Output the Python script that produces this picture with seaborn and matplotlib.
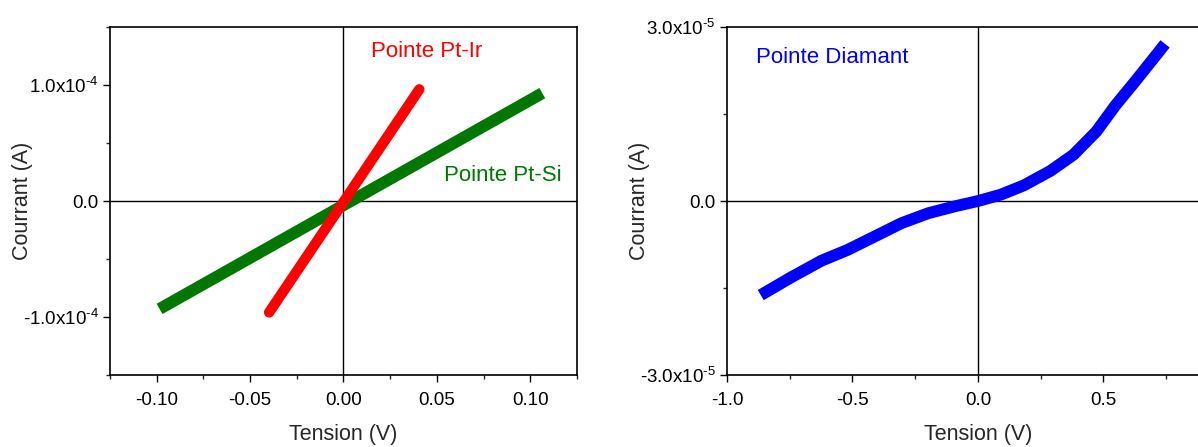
import matplotlib
matplotlib.use("Agg")
import matplotlib.pyplot as plt
import seaborn as sns
from matplotlib.ticker import FixedLocator, MultipleLocator

sns.set_style("ticks")
plt.rcParams['font.family'] = ['Liberation Sans', 'DejaVu Sans']
plt.rcParams['mathtext.fontset'] = 'custom'
plt.rcParams['mathtext.rm'] = 'Liberation Sans'
plt.rcParams['mathtext.it'] = 'Liberation Sans'

# Data
ptir_v = [-0.0398, 0.0406]
ptir_i = [-0.96e-4, 0.963e-4]

ptsi_v = [-0.0957, 0.1037]
ptsi_i = [-0.905e-4, 0.905e-4]

diam_v = [-0.845, -0.746, -0.624, -0.518, -0.411, -0.304, -0.198, -0.091, 0.0,
          0.091, 0.183, 0.289, 0.381, 0.472, 0.548, 0.624, 0.685, 0.731]
diam_i = [-1.57e-5, -1.32e-5, -1.03e-5, -0.84e-5, -0.61e-5, -0.38e-5, -0.21e-5,
          -0.09e-5, 0.0, 0.11e-5, 0.27e-5, 0.52e-5, 0.80e-5, 1.20e-5, 1.65e-5,
          2.05e-5, 2.38e-5, 2.63e-5]

left_yticks = [-1e-4, 0, 1e-4]
left_ylabels = ['-1.0x10$^{\u20104}$', '0.0', '1.0x10$^{\u20104}$']
left_xticks = [-0.10, -0.05, 0.00, 0.05, 0.10]
left_xlabels = ['-0.10', '-0.05', '0.00', '0.05', '0.10']

right_yticks = [-3e-5, 0, 3e-5]
right_ylabels = ['-3.0x10$^{\u20105}$', '0.0', '3.0x10$^{\u20105}$']
right_xticks = [-1.0, -0.5, 0.0, 0.5]
right_xlabels = ['-1.0', '-0.5', '0.0', '0.5']

fig = plt.figure(figsize=(11.98, 4.47), dpi=100)
ax1 = fig.add_axes([0.0918, 0.161, 0.3898, 0.7785])
ax2 = fig.add_axes([0.6068, 0.161, 0.419, 0.7785])

for ax in (ax1, ax2):
    ax.axhline(0, color='black', lw=1, zorder=1)
    ax.axvline(0, color='black', lw=1, zorder=1)

sns.lineplot(x=ptsi_v, y=ptsi_i, ax=ax1, color='#007700', linewidth=8.5,
             sort=False, solid_capstyle='projecting', zorder=3)
sns.lineplot(x=ptir_v, y=ptir_i, ax=ax1, color='#ff0000', linewidth=7.5,
             sort=False, solid_capstyle='round', zorder=4)
sns.lineplot(x=diam_v, y=diam_i, ax=ax2, color='#0000ff', linewidth=8.5,
             sort=False, solid_capstyle='projecting', zorder=3)

ax1.set_xlim(-0.125, 0.125)
ax1.set_ylim(-1.5e-4, 1.5e-4)
ax1.xaxis.set_major_locator(FixedLocator(left_xticks))
ax1.set_xticklabels(left_xlabels)
ax1.xaxis.set_minor_locator(MultipleLocator(0.025))
ax1.yaxis.set_major_locator(FixedLocator(left_yticks))
ax1.set_yticklabels(left_ylabels)
ax1.yaxis.set_minor_locator(MultipleLocator(0.5e-4))

ax2.set_xlim(-1.0, 1.0)
ax2.set_ylim(-3e-5, 3e-5)
ax2.xaxis.set_major_locator(FixedLocator(right_xticks))
ax2.set_xticklabels(right_xlabels)
ax2.xaxis.set_minor_locator(MultipleLocator(0.25))
ax2.yaxis.set_major_locator(FixedLocator(right_yticks))
ax2.set_yticklabels(right_ylabels)
ax2.yaxis.set_minor_locator(MultipleLocator(1.5e-5))

for ax in (ax1, ax2):
    for s in ax.spines.values():
        s.set_visible(True)
        s.set_color('black')
        s.set_linewidth(1.2)
    ax.tick_params(which='major', direction='out', length=5, width=1,
                   labelsize=13.5, color='black', labelcolor='black',
                   top=False, right=False, pad=3)
    ax.tick_params(axis='x', which='major', pad=7)
    ax.tick_params(which='minor', direction='out', length=3, width=1,
                   top=False, right=False)
    ax.set_xlabel('Tension (V)', fontsize=15.5)
    ax.set_ylabel('Courrant (A)', fontsize=15.5)
    ax.xaxis.set_label_coords(0.5, -0.14)

ax1.yaxis.set_label_coords(-0.165, 0.5)
ax2.yaxis.set_label_coords(-0.153, 0.5)

ax1.text(0.015, 1.285e-4, 'Pointe Pt-Ir', color='#ff0000', fontsize=16,
         va='center', ha='left')
ax1.text(0.054, 0.22e-4, 'Pointe Pt-Si', color='#007700', fontsize=16,
         va='center', ha='left')
ax2.text(-0.886, 2.47e-5, 'Pointe Diamant', color='#0000ff', fontsize=16,
         va='center', ha='left')

fig.savefig('out.png', dpi=100)
